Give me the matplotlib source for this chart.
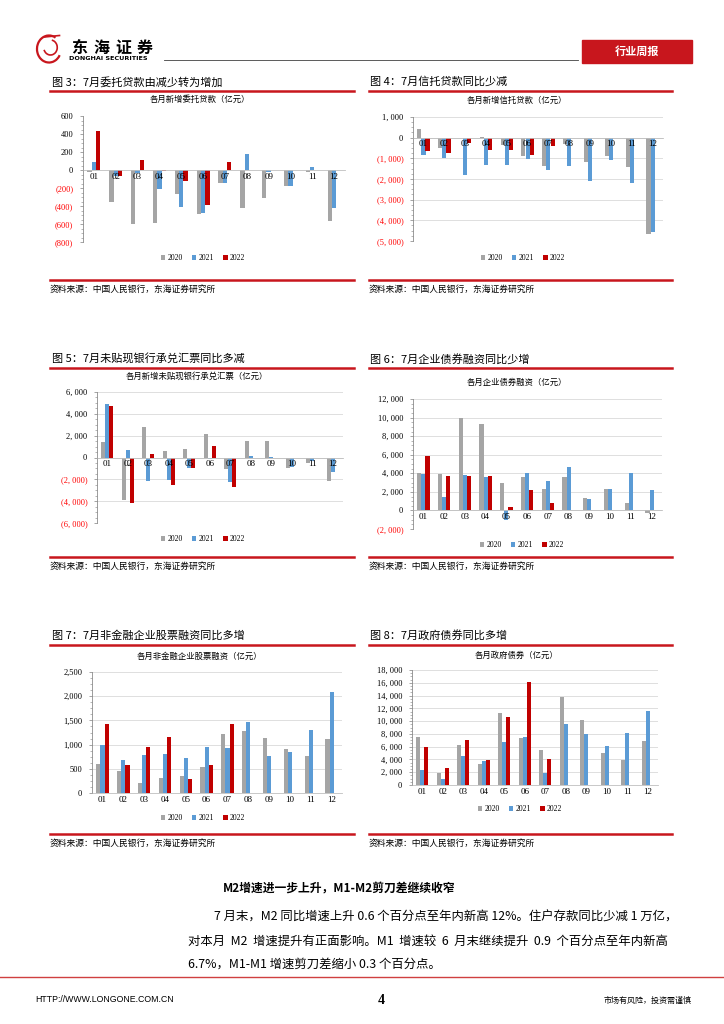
import numpy as np
import matplotlib.pyplot as plt
from matplotlib.ticker import AutoMinorLocator
from matplotlib.patches import Rectangle, Arc
from matplotlib.lines import Line2D

plt.rcParams['font.family'] = ['Noto Sans CJK SC', 'DejaVu Sans']

# page size in pixels
W, H = 724, 1024

months = ['01', '02', '03', '04', '05', '06', '07', '08', '09', '10', '11', '12']
years = ['2020', '2021', '2022']

# 各月新增委托贷款（亿元）
wt_2020 = [-19, -361, -596, -585, -272, -484, -149, -417, -313, -175, -26, -562]
wt_2021 = [93, -63, -37, -212, -406, -473, -145, 182, -22, -175, 37, -417]
wt_2022 = [432, -65, 115, -7, -127, -384, 93]

# 各月新增信托贷款（亿元）
xt_2020 = [403, -500, -30, 20, -371, -887, -1371, -306, -1177, -903, -1403, -4645]
xt_2021 = [-855, -968, -1790, -1339, -1339, -1032, -1580, -1371, -2113, -1081, -2194, -4565]
xt_2022 = [-661, -742, -258, -613, -613, -855, -403]

# 各月新增未贴现银行承兑汇票（亿元）
wd_2020 = [1400, -3897, 2831, 640, 822, 2192, -1035, 1492, 1553, -1005, -518, -2162]
wd_2021 = [4932, 700, -2192, -2070, -944, -183, -2253, 183, 91, -883, -305, -1340]
wd_2022 = [4750, -4200, 365, -2557, -974, 1096, -2709]

# 各月企业债券融资（亿元）
zq_2020 = [4000, 3964, 9929, 9321, 2964, 3643, 2357, 3643, 1321, 2321, 821, -321]
zq_2021 = [3929, 1393, 3857, 3643, -1036, 4000, 3143, 4679, 1179, 2321, 4071, 2179]
zq_2022 = [5857, 3750, 3750, 3750, 357, 2250, 750]

# 各月非金融企业股票融资（亿元）
gp_2020 = [596, 450, 208, 305, 346, 533, 1219, 1281, 1136, 914, 762, 1115]
gp_2021 = [990, 692, 782, 803, 713, 948, 928, 1468, 762, 838, 1295, 2077]
gp_2022 = [1433, 575, 948, 1156, 284, 575, 1433]

# 各月政府债券（亿元）
zf_2020 = [7520, 1828, 6266, 3290, 11332, 7363, 5431, 13733, 10130, 4960, 3968, 6945]
zf_2021 = [2350, 940, 4595, 3760, 6684, 7468, 1828, 9608, 7990, 6110, 8094, 11592]
zf_2022 = [5953, 2663, 7050, 3916, 10600, 16136, 4020]

GRAY = '#A5A5A5'
BLUE = '#5B9BD5'
RED = '#C00000'
NEG = '#FF0000'
LINE_RED = '#C8161D'

fig = plt.figure(figsize=(7.24, 10.24), dpi=100)


def fx(x):
    return x / W


def fy(y):
    return 1 - y / H


def hline(x0, x1, y, color, lw):
    fig.add_artist(Line2D([fx(x0), fx(x1)], [fy(y), fy(y)], color=color, lw=lw))


def label(v, spaced):
    s = f"{abs(int(v)):,}"
    if spaced:
        s = s.replace(',', ', ')
    return f"({s})" if v < 0 else s


def bar_chart(box, ylim, step, title, title_xy, legend_xy, s20, s21, s22,
              spaced=True, grid=True):
    left, top, right, bottom = box
    ax = fig.add_axes([fx(left), fy(bottom), (right - left) / W, (bottom - top) / H])
    # spine position first: moving it resets the tick labels
    for s in ['top', 'right']:
        ax.spines[s].set_visible(False)
    ax.spines['bottom'].set_position(('data', 0))
    ax.spines['bottom'].set_color('#BFBFBF')
    ax.spines['bottom'].set_linewidth(0.6)
    ax.spines['left'].set_color('#8C8C8C')
    ax.spines['left'].set_linewidth(0.6)

    ticks = np.arange(ylim[0], ylim[1] + step, step)
    if grid:
        for t in ticks:
            ax.axhline(t, color='#D9D9D9', lw=0.6, zorder=0)

    x = np.arange(len(months))
    w = 0.2
    h20 = ax.bar(x - w, s20, w, color=GRAY, zorder=1)
    h21 = ax.bar(x, s21, w, color=BLUE, zorder=1)
    h22 = ax.bar(x[:len(s22)] + w, s22, w, color=RED, zorder=1)
    ax.set_xlim(-0.5, 11.5)
    ax.set_ylim(*ylim)
    ax.set_yticks(ticks)
    ax.set_yticklabels([label(t, spaced) for t in ticks], fontsize=6,
                       family='Liberation Serif')
    for lab, t in zip(ax.get_yticklabels(), ticks):
        if t < 0:
            lab.set_color(NEG)
    ax.yaxis.set_minor_locator(AutoMinorLocator(4))
    ax.tick_params(axis='y', which='major', length=2, width=0.5, color='#808080', pad=5)
    ax.tick_params(axis='y', which='minor', length=1.2, width=0.4, color='#808080')
    ax.set_xticks(x)
    ax.set_xticklabels(months, fontsize=6.5, family='Liberation Serif')
    ax.tick_params(axis='x', length=0, pad=2)
    # month labels are drawn over the bars, as in the source
    ax.set_axisbelow(False)
    fig.text(fx(title_xy[0]), fy(title_xy[1]), title, fontsize=6,
             ha='center', va='center')
    ax.legend([h20, h21, h22], years, loc='center',
              bbox_to_anchor=(fx(legend_xy[0]), fy(legend_xy[1])),
              bbox_transform=fig.transFigure, ncol=3, frameon=False,
              prop={'family': 'Liberation Serif', 'size': 5.5},
              handlelength=0.6, handleheight=0.6, handletextpad=0.3,
              columnspacing=1.2)
    return ax


# ---- header ----
logo = fig.add_axes([fx(34), fy(64), fx(30), 30 / H])
logo.set_xlim(0, 1)
logo.set_ylim(0, 1)
logo.axis('off')
logo.add_patch(Arc((0.5, 0.5), 0.8, 0.9, theta1=60, theta2=330, color=LINE_RED, lw=1.6))
logo.add_patch(Arc((0.55, 0.55), 0.45, 0.5, theta1=200, theta2=80, color=LINE_RED, lw=1.2))
logo.plot([0.35, 0.85], [0.9, 0.95], color=LINE_RED, lw=1.2)

for i, ch in enumerate('东海证券'):
    fig.text(fx(79 + i * 22), fy(48), ch, fontsize=11.5, fontweight='bold',
             ha='center', va='center')
fig.text(fx(69), fy(59), 'DONGHAI SECURITIES', fontsize=4.6, fontweight='bold',
         family='DejaVu Sans', ha='left', va='center')
hline(164, 578, 59.5, '#404040', 0.6)
fig.add_artist(Rectangle((fx(582), fy(63)), fx(110), 23 / H, color='#C8161D',
                         transform=fig.transFigure))
fig.text(fx(637), fy(51.5), '行业周报', fontsize=8, fontweight='bold', color='white',
         ha='center', va='center')

# ---- figure titles and sources ----
titles = [
    ('图 3：7月委托贷款由减少转为增加', '图 4：7月信托贷款同比少减', 82, 91, 280, 289),
    ('图 5：7月未贴现银行承兑汇票同比多减', '图 6：7月企业债券融资同比少增', 359, 368, 557, 566),
    ('图 7：7月非金融企业股票融资同比多增', '图 8：7月政府债券同比多增', 636, 645, 834, 843),
]
source = '资料来源：中国人民银行，东海证券研究所'
for lt, rt, ty, ly, sy, sty in titles:
    fig.text(fx(52), fy(ty), lt, fontsize=8, ha='left', va='center')
    fig.text(fx(370), fy(ty), rt, fontsize=8, ha='left', va='center')
    hline(50, 354, ly, LINE_RED, 1.8)
    hline(369, 672, ly, LINE_RED, 1.8)
    hline(50, 354, sy, LINE_RED, 1.8)
    hline(369, 672, sy, LINE_RED, 1.8)
    fig.text(fx(50), fy(sty), source, fontsize=6.3, ha='left', va='center')
    fig.text(fx(369), fy(sty), source, fontsize=6.3, ha='left', va='center')

# ---- charts ----
bar_chart((83, 116, 345, 242), (-800, 600), 200, '各月新增委托贷款（亿元）',
          (200, 99), (203, 258), wt_2020, wt_2021, wt_2022, spaced=False, grid=False)
bar_chart((413, 117, 663, 241), (-5000, 1000), 1000, '各月新增信托贷款（亿元）',
          (517, 100), (523, 258), xt_2020, xt_2021, xt_2022)
bar_chart((97, 392, 343, 523), (-6000, 6000), 2000, '各月新增未贴现银行承兑汇票（亿元）',
          (197, 376), (203, 539), wd_2020, wd_2021, wd_2022)
bar_chart((413, 399, 662, 529), (-2000, 12000), 2000, '各月企业债券融资（亿元）',
          (517, 382), (522, 545), zq_2020, zq_2021, zq_2022)
bar_chart((92, 672, 342, 793), (0, 2500), 500, '各月非金融企业股票融资（亿元）',
          (200, 656), (203, 818), gp_2020, gp_2021, gp_2022, spaced=False)
bar_chart((412, 670, 658, 785), (0, 18000), 2000, '各月政府债券（亿元）',
          (517, 655), (520, 809), zf_2020, zf_2021, zf_2022)

# ---- text section ----
fig.text(fx(339), fy(888), 'M2增速进一步上升，M1-M2剪刀差继续收窄', fontsize=8.5,
         fontweight='bold', ha='center', va='center')
para = [
    (214, 917, '7 月末，M2 同比增速上升 0.6 个百分点至年内新高 12%。住户存款同比少减 1 万亿，'),
    (188, 941, '对本月  M2  增速提升有正面影响。M1  增速较  6  月末继续提升  0.9  个百分点至年内新高'),
    (188, 964, '6.7%，M1-M1 增速剪刀差缩小 0.3 个百分点。'),
]
for x0, y0, s in para:
    fig.text(fx(x0), fy(y0), s, fontsize=8.9, ha='left', va='center')

# ---- footer ----
hline(0, 724, 977, '#D04040', 1.0)
fig.text(fx(35), fy(1000), 'HTTP://WWW.LONGONE.COM.CN', fontsize=6.3,
         family='Liberation Sans', ha='left', va='center')
fig.text(fx(381), fy(1000), '4', fontsize=10, fontweight='bold',
         family='Liberation Serif', ha='center', va='center')
fig.text(fx(692), fy(1000), '市场有风险，投资需谨慎', fontsize=5.8, ha='right', va='center')

fig.savefig('out.png', dpi=100)
